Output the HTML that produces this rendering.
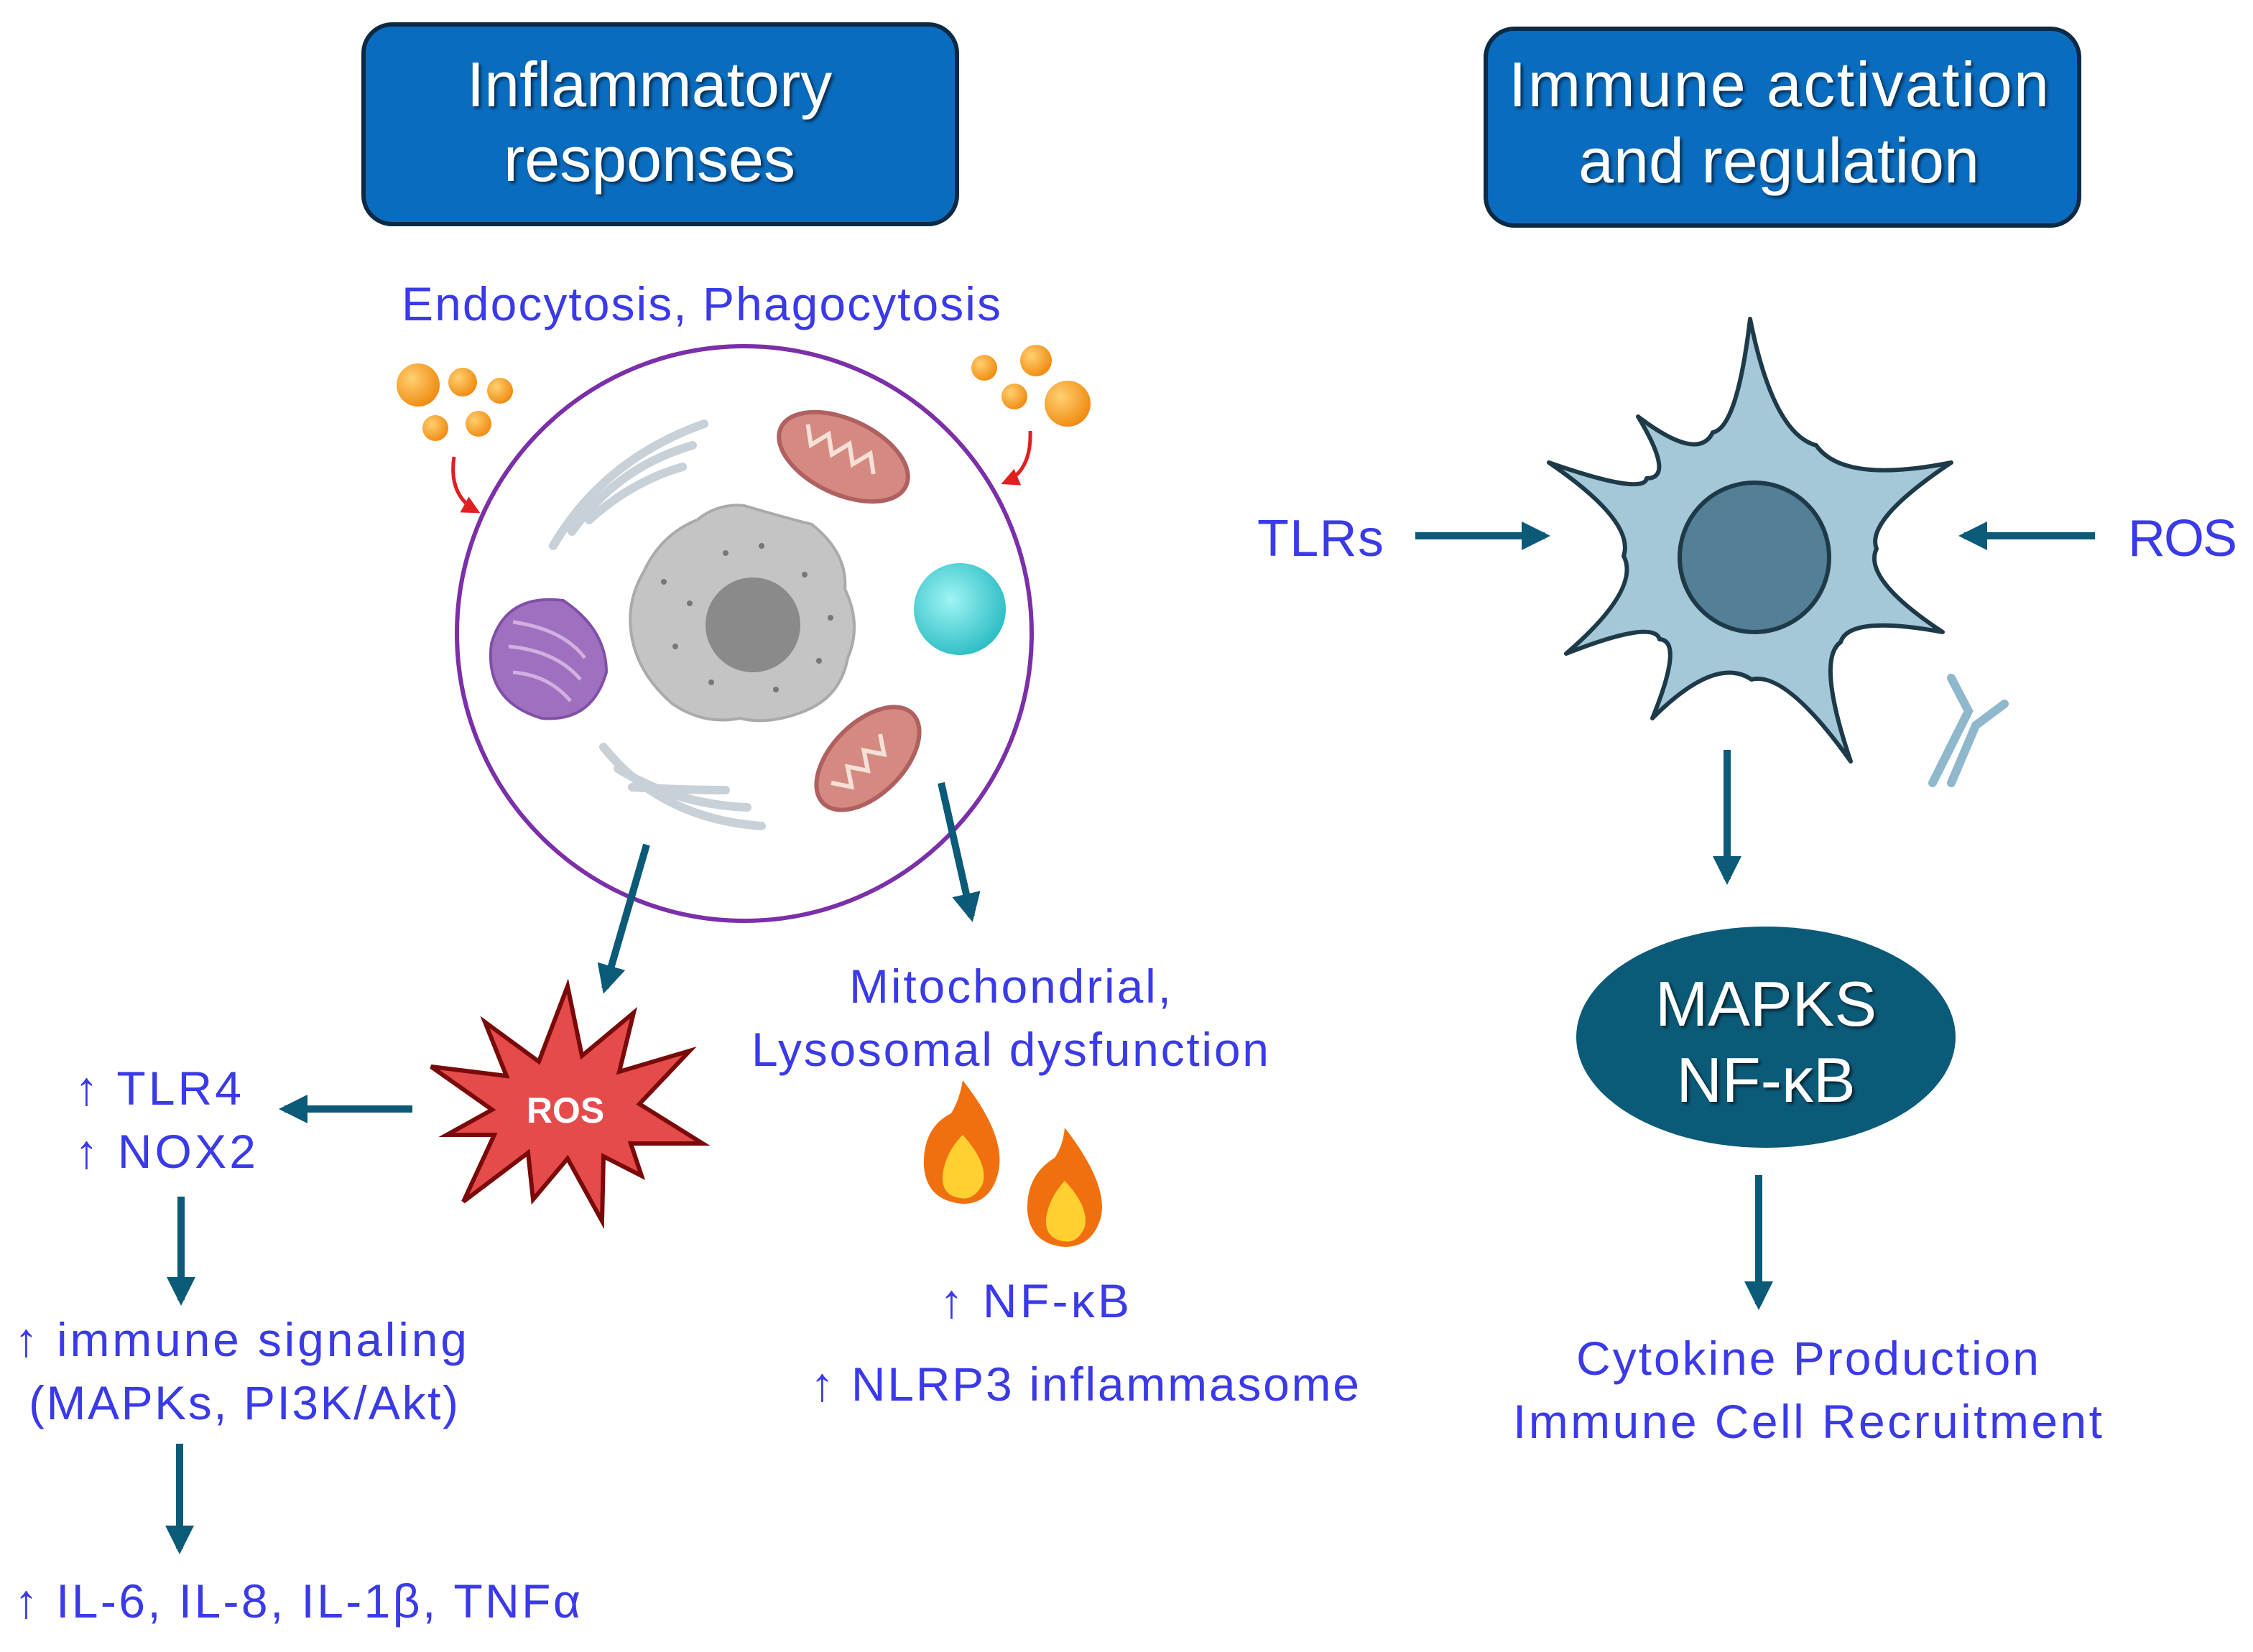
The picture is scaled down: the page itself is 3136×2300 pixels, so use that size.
<!DOCTYPE html>
<html><head><meta charset="utf-8"><style>
html,body{margin:0;padding:0;background:#fff;}
svg{display:block;}
text{font-family:"Liberation Sans",sans-serif;}
</style></head><body>
<svg width="3136" height="2300" viewBox="0 0 1568 1150" xmlns="http://www.w3.org/2000/svg">
<defs>
<marker id="ah" viewBox="0 0 10 10" refX="8" refY="5" markerWidth="4" markerHeight="4" orient="auto"><path d="M0,0 L10,5 L0,10 z" fill="#0b5a78"/></marker>
<marker id="rh" viewBox="0 0 10 10" refX="8" refY="5" markerWidth="5" markerHeight="5" orient="auto"><path d="M0,0 L10,5 L0,10 z" fill="#e02020"/></marker>
<radialGradient id="ob" cx="0.35" cy="0.35" r="0.7"><stop offset="0" stop-color="#ffd070"/><stop offset="1" stop-color="#f08a10"/></radialGradient>
<radialGradient id="cy" cx="0.4" cy="0.4" r="0.7"><stop offset="0" stop-color="#a0f4f4"/><stop offset="1" stop-color="#20b8c0"/></radialGradient>
<filter id="sh"><feDropShadow dx="1.5" dy="1.5" stdDeviation="1" flood-color="#000" flood-opacity="0.6"/></filter>
</defs>

<rect x="253" y="17" width="413" height="139" rx="20" fill="#0a6cbf" stroke="#0c2a44" stroke-width="3"/>
<text x="452" y="74" font-size="44" fill="#fff" text-anchor="middle" filter="url(#sh)">Inflammatory</text>
<text x="452" y="126" font-size="44" fill="#fff" text-anchor="middle" filter="url(#sh)">responses</text>
<rect x="1034" y="20" width="413" height="137" rx="20" fill="#0a6cbf" stroke="#0c2a44" stroke-width="3"/>
<text x="1238" y="74" font-size="44" fill="#fff" text-anchor="middle" filter="url(#sh)" textLength="376">Immune activation</text>
<text x="1238" y="127" font-size="44" fill="#fff" text-anchor="middle" filter="url(#sh)">and regulation</text>

<text x="488" y="223" font-size="33" fill="#3a3ae8" text-anchor="middle" textLength="417">Endocytosis, Phagocytosis</text>
<g fill="url(#ob)">
<circle cx="291" cy="268" r="15"/><circle cx="322" cy="266" r="10"/><circle cx="348" cy="272" r="9"/><circle cx="303" cy="298" r="9"/><circle cx="333" cy="295" r="9"/>
<circle cx="721" cy="251" r="11"/><circle cx="685" cy="256" r="9"/><circle cx="706" cy="276" r="9"/><circle cx="743" cy="281" r="16"/>
</g>
<path d="M316,318 Q312,345 332,356" fill="none" stroke="#e02020" stroke-width="2.5" marker-end="url(#rh)"/>
<path d="M717,300 Q718,328 699,336" fill="none" stroke="#e02020" stroke-width="2.5" marker-end="url(#rh)"/>
<circle cx="518" cy="441" r="200" fill="#fff" stroke="#7b2fa8" stroke-width="3"/>
<g fill="none" stroke="#c8d0d8" stroke-width="6" stroke-linecap="round">
<path d="M385,380 Q420,320 490,295"/><path d="M398,370 Q430,325 482,310"/><path d="M410,362 Q440,335 475,325"/>
<path d="M420,520 Q460,570 530,575"/><path d="M430,535 Q470,560 520,562"/><path d="M440,548 Q475,550 505,550"/>
</g>
<ellipse cx="587" cy="318" rx="48" ry="26" transform="rotate(25 587 318)" fill="#d48a80" stroke="#b06060" stroke-width="3"/>
<path d="M555,308 l8,12 l8,-12 l8,12 l8,-12 l8,12 l8,-12 l8,12" transform="rotate(25 587 318)" fill="none" stroke="#f5e0d8" stroke-width="3"/>
<ellipse cx="604" cy="528" rx="44" ry="25" transform="rotate(-45 604 528)" fill="#d48a80" stroke="#b06060" stroke-width="3"/>
<path d="M574,522 l8,12 l8,-12 l8,12 l8,-12 l8,12 l8,-12" transform="rotate(-45 604 528)" fill="none" stroke="#f5e0d8" stroke-width="3"/>
<g transform="translate(382,458)">
<path d="M-40,-10 Q-30,-45 10,-40 Q40,-20 40,10 Q30,45 -5,42 Q-45,30 -40,-10z" fill="#a070c0" stroke="#8050a8" stroke-width="2"/>
<g fill="none" stroke="#d0b0e0" stroke-width="2.5"><path d="M-25,-25 Q10,-20 25,0"/><path d="M-28,-8 Q5,-5 22,15"/><path d="M-25,10 Q0,12 15,30"/></g>
</g>
<path d="M518,352 Q545,360 565,365 Q590,385 588,410 Q600,435 590,458 Q585,485 560,495 Q535,505 515,500 Q490,505 468,490 Q445,470 440,445 Q435,420 448,398 Q460,372 485,362 Q500,350 518,352z" fill="#c4c4c4" stroke="#aaa" stroke-width="2"/>
<circle cx="524" cy="435" r="33" fill="#8a8a8a"/>
<g fill="#777"><circle cx="480" cy="420" r="2"/><circle cx="470" cy="450" r="2"/><circle cx="560" cy="400" r="2"/><circle cx="570" cy="460" r="2"/><circle cx="505" cy="385" r="2"/><circle cx="540" cy="480" r="2"/><circle cx="495" cy="475" r="2"/><circle cx="530" cy="380" r="2"/><circle cx="578" cy="430" r="2"/><circle cx="462" cy="405" r="2"/></g>
<circle cx="668" cy="424" r="32" fill="url(#cy)"/>
<line x1="450" y1="588" x2="421" y2="688" stroke="#0b5a78" stroke-width="5" marker-end="url(#ah)"/>
<line x1="655" y1="545" x2="676" y2="638" stroke="#0b5a78" stroke-width="5" marker-end="url(#ah)"/>
<g transform="scale(0.5)">
<path d="M790,1373 L810,1470 L882,1410 L862,1492 L960,1463 L890,1537 L978,1592 L878,1592 L893,1637 L840,1610 L838,1700 L790,1613 L742,1670 L735,1605 L645,1673 L688,1580 L622,1580 L685,1545 L600,1485 L705,1498 L675,1423 L750,1478 Z" fill="#e54b4b" stroke="#7a0a0a" stroke-width="6" stroke-linejoin="miter"/>
<text x="787" y="1563" font-size="50" font-weight="bold" fill="#fff" text-anchor="middle">ROS</text>
</g>
<line x1="287" y1="772" x2="198" y2="772" stroke="#0b5a78" stroke-width="5" marker-end="url(#ah)"/>
<g font-size="33" fill="#3a3ae8">
<text x="52" y="769" textLength="116">↑ TLR4</text>
<text x="52" y="813" textLength="126">↑ NOX2</text>
<text x="10" y="944" textLength="315">↑ immune signaling</text>
<text x="20" y="988" textLength="299">(MAPKs, PI3K/Akt)</text>
<text x="10" y="1126" textLength="394">↑ IL-6, IL-8, IL-1β, TNFα</text>
<text x="703" y="698" text-anchor="middle" textLength="224">Mitochondrial,</text>
<text x="703" y="742" text-anchor="middle" textLength="360">Lysosomal dysfunction</text>
<text x="720" y="917" text-anchor="middle" textLength="132">↑ NF-κB</text>
<text x="755" y="975" text-anchor="middle" textLength="382">↑ NLRP3 inflammasome</text>
</g>
<line x1="126" y1="833" x2="126" y2="905" stroke="#0b5a78" stroke-width="5" marker-end="url(#ah)"/>
<line x1="125" y1="1005" x2="125" y2="1078" stroke="#0b5a78" stroke-width="5" marker-end="url(#ah)"/>
<g>
<path d="M670,752 Q700,790 695,815 Q690,838 670,838 Q645,836 643,812 Q642,785 662,775 Q668,765 670,752z" fill="#f07010"/>
<path d="M670,790 Q688,810 684,824 Q678,836 668,834 Q655,832 656,818 Q658,802 670,790z" fill="#ffd030"/>
<path d="M741,785 Q772,825 766,848 Q760,868 741,868 Q717,866 715,843 Q714,818 734,806 Q740,797 741,785z" fill="#f07010"/>
<path d="M741,822 Q758,840 755,854 Q750,866 740,864 Q727,862 728,848 Q730,834 741,822z" fill="#ffd030"/>
</g>

<path d="M1218,222 Q1234,302 1264,310 Q1283,337 1358,322 Q1298,362 1306,382 Q1296,403 1352,440 Q1287,428 1281,447 Q1264,459 1288,530 Q1243,467 1219,473 Q1194,456 1150,500 Q1172,446 1155,445 Q1151,431 1090,455 Q1142,410 1130,387 Q1138,363 1078,322 Q1144,345 1146,333 Q1166,333 1140,290 Q1182,322 1192,301 Q1209,298 1218,222z" fill="#a5c8d8" stroke="#1e3a48" stroke-width="3" stroke-linejoin="round"/>
<circle cx="1221" cy="388" r="52" fill="#537f97" stroke="#1e3a48" stroke-width="3"/>
<g stroke="#8fb8cc" stroke-width="6" stroke-linecap="round" fill="none"><path d="M1345,545 L1370,495 L1358,472"/><path d="M1358,545 L1375,505 L1395,490"/></g>
<line x1="985" y1="373" x2="1075" y2="373" stroke="#0b5a78" stroke-width="5" marker-end="url(#ah)"/>
<line x1="1458" y1="373" x2="1367" y2="373" stroke="#0b5a78" stroke-width="5" marker-end="url(#ah)"/>
<text x="875" y="387" font-size="36" fill="#3a3ae8" textLength="88">TLRs</text>
<text x="1481" y="387" font-size="36" fill="#3a3ae8" textLength="76">ROS</text>
<line x1="1202" y1="522" x2="1202" y2="612" stroke="#0b5a78" stroke-width="5" marker-end="url(#ah)"/>
<ellipse cx="1229" cy="722" rx="132" ry="77" fill="#0b5a78"/>
<text x="1229" y="714" font-size="44" fill="#fff" text-anchor="middle" filter="url(#sh)">MAPKS</text>
<text x="1229" y="767" font-size="44" fill="#fff" text-anchor="middle" filter="url(#sh)">NF-κB</text>
<line x1="1224" y1="818" x2="1224" y2="908" stroke="#0b5a78" stroke-width="5" marker-end="url(#ah)"/>
<text x="1258" y="957" font-size="33" fill="#3a3ae8" text-anchor="middle" textLength="322">Cytokine Production</text>
<text x="1258" y="1001" font-size="33" fill="#3a3ae8" text-anchor="middle" textLength="410">Immune Cell Recruitment</text>
</svg>
</body></html>
